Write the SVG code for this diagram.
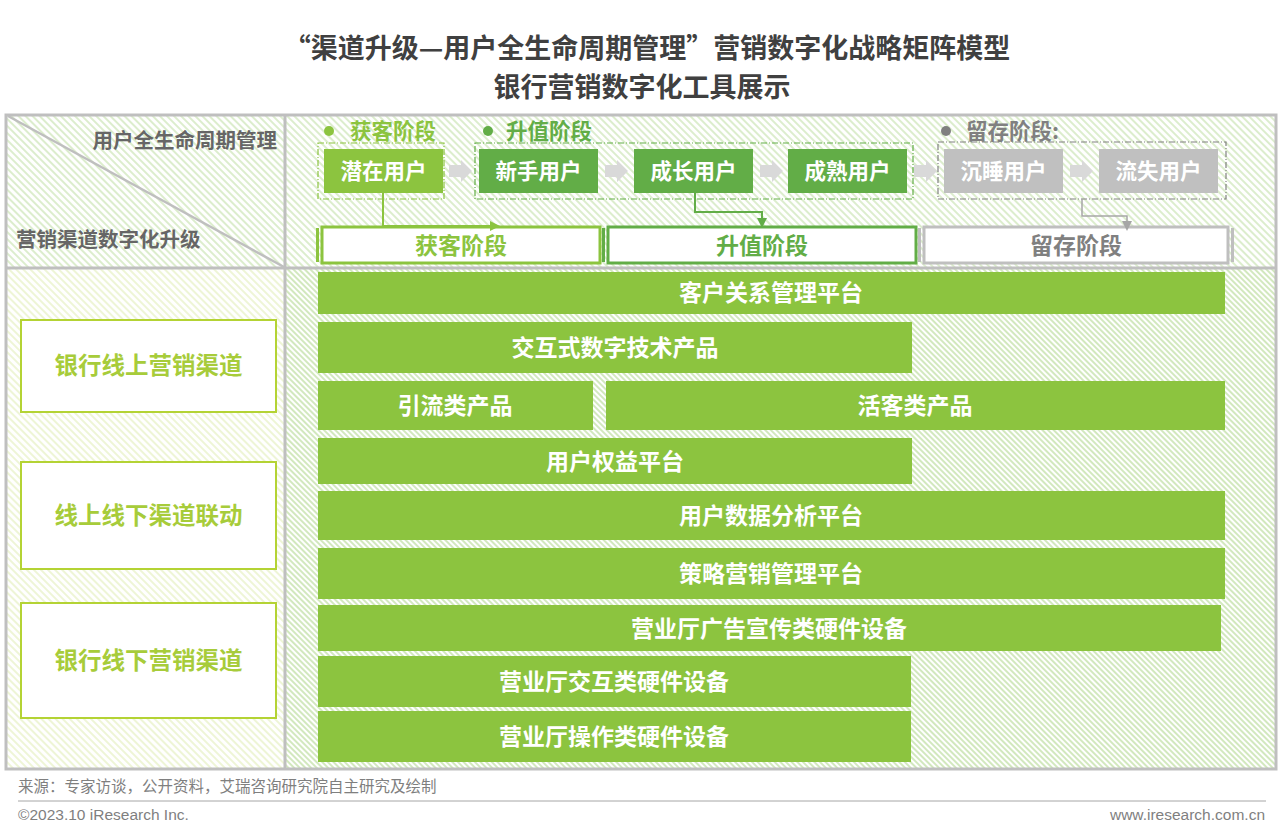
<svg xmlns="http://www.w3.org/2000/svg" width="1280" height="833" viewBox="0 0 1280 833">
<defs>
<pattern id="hTop" width="5" height="5" patternUnits="userSpaceOnUse" patternTransform="rotate(-45)"><rect width="5" height="5" fill="#ffffff"/><rect width="2" height="5" fill="#dcedcd"/></pattern>
<pattern id="hLeft" width="5" height="5" patternUnits="userSpaceOnUse" patternTransform="rotate(-45)"><rect width="5" height="5" fill="#ffffff"/><rect width="2" height="5" fill="#eef5d6"/></pattern>
<pattern id="hRight" width="4" height="4" patternUnits="userSpaceOnUse" patternTransform="rotate(-45)"><rect width="4" height="4" fill="#ffffff"/><rect width="2" height="4" fill="#d2e8be"/></pattern>
<path id="garrow" d="M0,-6 H12 V-11 L23,0 L12,11 V6 H0 Z" fill="#d9d9d9"/>
<marker id="mG" markerWidth="10" markerHeight="10" refX="8" refY="5" orient="auto" markerUnits="userSpaceOnUse"><path d="M0,0 L10,5 L0,10 Z" fill="#8cc43f"/></marker>
<marker id="mD" markerWidth="10" markerHeight="10" refX="8" refY="5" orient="auto" markerUnits="userSpaceOnUse"><path d="M0,0 L10,5 L0,10 Z" fill="#62ad47"/></marker>
<marker id="mR" markerWidth="10" markerHeight="10" refX="8" refY="5" orient="auto" markerUnits="userSpaceOnUse"><path d="M0,0 L10,5 L0,10 Z" fill="#a6a6a6"/></marker>
</defs>
<style>
text{font-family:"Noto Sans CJK SC","Noto Sans",sans-serif;font-weight:bold}
.title{font-size:27px;fill:#404040;text-anchor:middle}
.axis{font-size:20.5px;fill:#666666}
.stg{font-size:21.5px}
.box{font-size:21.5px;fill:#ffffff;text-anchor:middle}
.bar{font-size:23px;text-anchor:middle}
.row{fill:#8cc43f}
.rowt{font-size:23px;fill:#ffffff;text-anchor:middle}
.chan{fill:#ffffff;stroke:#b4d334;stroke-width:2}
.chant{font-size:23.5px;fill:#a7cc3a;text-anchor:middle}
.foot{font-family:"Liberation Sans","Noto Sans CJK SC",sans-serif;font-weight:normal;font-size:15.5px;fill:#7f7f7f}
</style>
<rect width="1280" height="833" fill="#ffffff"/>
<text class="title" x="647" y="58">“渠道升级—用户全生命周期管理”营销数字化战略矩阵模型</text>
<text class="title" x="642" y="97">银行营销数字化工具展示</text>

<g id="frame">
<rect x="6" y="115" width="1270" height="153" fill="url(#hTop)"/>
<rect x="6" y="268" width="279" height="501" fill="url(#hLeft)"/>
<rect x="285" y="268" width="991" height="501" fill="url(#hRight)"/>
<rect x="6" y="115" width="1270" height="654" fill="none" stroke="#bfbfbf" stroke-width="3"/>
<line x1="285" y1="115" x2="285" y2="769" stroke="#bfbfbf" stroke-width="3"/>
<line x1="6" y1="268" x2="1276" y2="268" stroke="#bfbfbf" stroke-width="3"/>
<line x1="8" y1="116" x2="284" y2="267" stroke="#bfbfbf" stroke-width="2.5"/>
<text class="axis" x="277" y="148" text-anchor="end">用户全生命周期管理</text>
<text class="axis" x="16" y="247">营销渠道数字化升级</text>
</g>

<g id="stage-labels">
<circle cx="329" cy="131" r="5" fill="#8cc43f"/><text class="stg" x="350" y="139" fill="#8cc43f">获客阶段</text>
<circle cx="488" cy="131" r="5" fill="#62ad47"/><text class="stg" x="506" y="139" fill="#62ad47">升值阶段</text>
<circle cx="946" cy="131" r="5" fill="#808080"/><text class="stg" x="966" y="139" fill="#808080">留存阶段:</text>
</g>

<g id="dashed-groups" fill="none" stroke-width="1.2" stroke-dasharray="6,2,1,2">
<rect x="318" y="143" width="126" height="56" stroke="#8cc43f"/>
<rect x="475" y="143" width="438" height="56" stroke="#62ad47"/>
<rect x="938" y="142" width="288" height="57" stroke="#808080"/>
</g>

<g id="n-qianzai"><rect x="324" y="149" width="119" height="44" fill="#8cc43f"/><text class="box" x="383.5" y="179">潜在用户</text></g>
<g id="n-xinshou"><rect x="479" y="149" width="119" height="44" fill="#62ad47"/><text class="box" x="538.5" y="179">新手用户</text></g>
<g id="n-chengzhang"><rect x="634" y="149" width="119" height="44" fill="#62ad47"/><text class="box" x="693.5" y="179">成长用户</text></g>
<g id="n-chengshu"><rect x="788" y="149" width="119" height="44" fill="#62ad47"/><text class="box" x="847.5" y="179">成熟用户</text></g>
<g id="n-chenshui"><rect x="944" y="149" width="119" height="44" fill="#c0c0c0"/><text class="box" x="1003.5" y="179">沉睡用户</text></g>
<g id="n-liushi"><rect x="1099" y="149" width="119" height="44" fill="#c0c0c0"/><text class="box" x="1158.5" y="179">流失用户</text></g>

<g id="b-huoke"><rect x="316" y="228" width="3" height="34" fill="#8cc43f"/><rect x="322" y="227" width="278" height="36" fill="#ffffff" stroke="#8cc43f" stroke-width="3"/><text class="bar" x="461" y="254" fill="#8cc43f">获客阶段</text></g>
<g id="b-shengzhi"><rect x="602" y="228" width="3" height="34" fill="#62ad47"/><rect x="608" y="227" width="308" height="36" fill="#ffffff" stroke="#62ad47" stroke-width="3"/><text class="bar" x="762" y="254" fill="#62ad47">升值阶段</text></g>
<g id="b-liucun"><rect x="918" y="228" width="3" height="34" fill="#bfbfbf"/><rect x="924" y="227" width="304" height="36" fill="#ffffff" stroke="#bfbfbf" stroke-width="3"/><rect x="1231" y="228" width="3" height="34" fill="#bfbfbf"/><text class="bar" x="1076" y="254" fill="#808080">留存阶段</text></g>

<g id="connectors">
<use href="#garrow" x="449" y="171"/>
<use href="#garrow" x="605" y="171"/>
<use href="#garrow" x="760" y="171"/>
<use href="#garrow" x="914" y="171"/>
<use href="#garrow" x="1070" y="171"/>
<path d="M383,193 V226 H498" fill="none" stroke="#8cc43f" stroke-width="2" marker-end="url(#mG)"/>
<path d="M695,193 V212 H762 V226" fill="none" stroke="#62ad47" stroke-width="2" marker-end="url(#mD)"/>
<path d="M1082,199 V216 H1127 V229" fill="none" stroke="#a6a6a6" stroke-width="1.5" marker-end="url(#mR)"/>
</g>

<g id="c-online"><rect class="chan" x="21" y="320" width="255" height="92"/><text class="chant" x="148.5" y="374">银行线上营销渠道</text></g>
<g id="c-o2o"><rect class="chan" x="21" y="462" width="255" height="107"/><text class="chant" x="148.5" y="524">线上线下渠道联动</text></g>
<g id="c-offline"><rect class="chan" x="21" y="603" width="255" height="115"/><text class="chant" x="148.5" y="669">银行线下营销渠道</text></g>

<g id="t-crm"><rect class="row" x="318" y="272" width="907" height="42"/><text class="rowt" x="771" y="301">客户关系管理平台</text></g>
<g id="t-interactive"><rect class="row" x="318" y="322" width="594" height="51"/><text class="rowt" x="615" y="356">交互式数字技术产品</text></g>
<g id="t-yinliu"><rect class="row" x="318" y="381" width="275" height="49"/><text class="rowt" x="455" y="414">引流类产品</text></g>
<g id="t-huoke"><rect class="row" x="606" y="381" width="619" height="49"/><text class="rowt" x="915" y="414">活客类产品</text></g>
<g id="t-quanyi"><rect class="row" x="318" y="438" width="594" height="46"/><text class="rowt" x="615" y="470">用户权益平台</text></g>
<g id="t-data"><rect class="row" x="318" y="491" width="907" height="49"/><text class="rowt" x="771" y="524">用户数据分析平台</text></g>
<g id="t-strategy"><rect class="row" x="318" y="548" width="907" height="51"/><text class="rowt" x="771" y="582">策略营销管理平台</text></g>
<g id="t-ad"><rect class="row" x="318" y="605" width="903" height="46"/><text class="rowt" x="769" y="637">营业厅广告宣传类硬件设备</text></g>
<g id="t-hw-inter"><rect class="row" x="318" y="656" width="593" height="51"/><text class="rowt" x="614" y="690">营业厅交互类硬件设备</text></g>
<g id="t-hw-op"><rect class="row" x="318" y="711" width="593" height="51"/><text class="rowt" x="614" y="745">营业厅操作类硬件设备</text></g>

<g id="footer">
<text class="foot" x="18" y="792">来源：专家访谈，公开资料，艾瑞咨询研究院自主研究及绘制</text>
<line x1="18" y1="801" x2="1266" y2="801" stroke="#a6a6a6" stroke-width="1"/>
<text class="foot" x="18" y="820">©2023.10 iResearch Inc.</text>
<text class="foot" x="1265" y="820" text-anchor="end">www.iresearch.com.cn</text>
</g>
</svg>
